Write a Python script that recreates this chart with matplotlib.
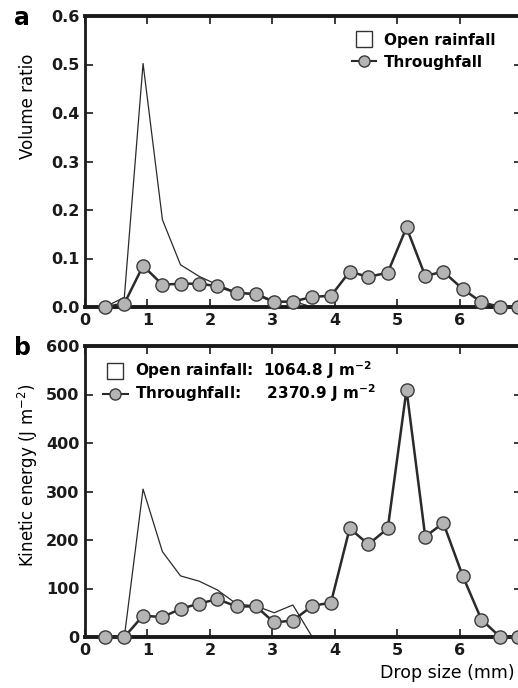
import matplotlib
matplotlib.use("Agg")
import matplotlib.pyplot as plt
from matplotlib.lines import Line2D

plt.rcParams['font.family'] = ['DejaVu Sans']
plt.rcParams['mathtext.fontset'] = 'dejavusans'

# Drop size class centres (mm)
drop_size = [0.32, 0.63, 0.93, 1.24, 1.53, 1.83, 2.12, 2.43, 2.74, 3.03, 3.33,
             3.64, 3.94, 4.24, 4.54, 4.85, 5.15, 5.45, 5.74, 6.05, 6.35, 6.65, 6.94]

# Panel a: volume ratio
open_vol_x = [0.32, 0.63, 0.93, 1.24, 1.53, 1.83, 2.12, 2.43, 2.74, 3.03, 3.33, 3.64]
open_vol = [0.0, 0.02, 0.502, 0.18, 0.087, 0.063, 0.046, 0.030, 0.025, 0.009, 0.012, 0.0]
thr_vol = [0.0, 0.007, 0.085, 0.046, 0.048, 0.048, 0.043, 0.029, 0.027, 0.011, 0.011,
           0.021, 0.023, 0.073, 0.062, 0.071, 0.164, 0.064, 0.073, 0.037, 0.010, 0.0, 0.0]

# Panel b: kinetic energy (J m-2)
open_ke_x = [0.32, 0.63, 0.93, 1.24, 1.53, 1.83, 2.12, 2.43, 2.74, 3.03, 3.33, 3.64]
open_ke = [0, 0, 305, 176, 126, 115, 97, 68, 64, 50, 66, 0]
thr_ke = [0, 0, 44, 41, 58, 69, 78, 63, 63, 30, 34, 64, 71, 224, 191, 224, 510,
          207, 235, 126, 36, 0, 0]

x_ticks = [0, 1, 2, 3, 4, 5, 6, 7]
vol_ticks = [0.0, 0.1, 0.2, 0.3, 0.4, 0.5, 0.6]
ke_ticks = [0, 100, 200, 300, 400, 500, 600]

W, H = 518, 688
fig = plt.figure(figsize=(W / 100, H / 100), dpi=100)

left = 85 / W
width = (522 - 85) / W
ax_a = fig.add_axes([left, 1 - 307 / H, width, (307 - 16) / H])
ax_b = fig.add_axes([left, 1 - 637 / H, width, (637 - 346) / H])

line_c = '#2a2a2a'
mk_face = '#b4b4b4'
tick_fs = 11.5

def style(ax):
    for s in ['top', 'bottom']:
        ax.spines[s].set_linewidth(2.8)
    for s in ['left', 'right']:
        ax.spines[s].set_linewidth(2.0)
    for s in ax.spines.values():
        s.set_color('#1a1a1a')
    ax.tick_params(direction='in', top=True, right=True, length=6, width=1.2,
                   labelsize=tick_fs, colors='#1a1a1a', pad=4)
    ax.set_xlim(0, 7)
    ax.set_xticks(x_ticks)
    ax.set_xticklabels([str(t) for t in x_ticks[:-1]] + [''], fontweight='bold')

def plot_series(ax, ox, oy, ty):
    ax.plot(ox, oy, color=line_c, lw=0.9, zorder=2)
    ax.plot(drop_size, ty, color=line_c, lw=1.8, marker='o', ms=9.5,
            mfc=mk_face, mec='#3a3a3a', mew=1.0, zorder=3, clip_on=False)

leg_prop = {'weight': 'bold', 'size': 11}
h_open = Line2D([], [], ls='none', marker='s', ms=12, mfc='white', mec='#333333', mew=1.0)
h_thr = Line2D([], [], color=line_c, lw=1.5, marker='o', ms=8, mfc=mk_face, mec='#3a3a3a')

# Panel a
style(ax_a)
plot_series(ax_a, open_vol_x, open_vol, thr_vol)
ax_a.set_ylim(0, 0.6)
ax_a.set_yticks(vol_ticks)
ax_a.set_yticklabels([f'{v:.1f}' for v in vol_ticks], fontweight='bold')
ax_a.legend([h_open, h_thr], ['Open rainfall', 'Throughfall'], loc='upper left',
            bbox_to_anchor=((338 - 85) / (522 - 85), 0.99), frameon=False,
            handlelength=1.6, handletextpad=0.5, labelspacing=0.45, prop=leg_prop)

# Panel b
style(ax_b)
plot_series(ax_b, open_ke_x, open_ke, thr_ke)
ax_b.set_ylim(0, 600)
ax_b.set_yticks(ke_ticks)
ax_b.set_yticklabels([str(v) for v in ke_ticks], fontweight='bold')
ax_b.legend([h_open, h_thr],
            [r'Open rainfall:  1064.8 J m$^{\mathbf{-2}}$',
             r'Throughfall:     2370.9 J m$^{\mathbf{-2}}$'],
            loc='upper left', bbox_to_anchor=(0.01, 1.0), frameon=False,
            handlelength=1.6, handletextpad=0.5, labelspacing=0.05, prop=leg_prop)

fig.text(28 / W, 1 - 106 / H, 'Volume ratio', fontsize=12, rotation=90,
         ha='center', va='center')
fig.text(28 / W, 1 - 475 / H, r'Kinetic energy (J m$^{-2}$)', fontsize=12, rotation=90,
         ha='center', va='center')
fig.text(515 / W, 1 - 673 / H, 'Drop size (mm)', fontsize=12.5, ha='right', va='center')
fig.text(22 / W, 1 - 18 / H, 'a', fontsize=17, fontweight='bold', ha='center', va='center')
fig.text(22 / W, 1 - 348 / H, 'b', fontsize=17, fontweight='bold', ha='center', va='center')

fig.savefig('out.png', dpi=100)
